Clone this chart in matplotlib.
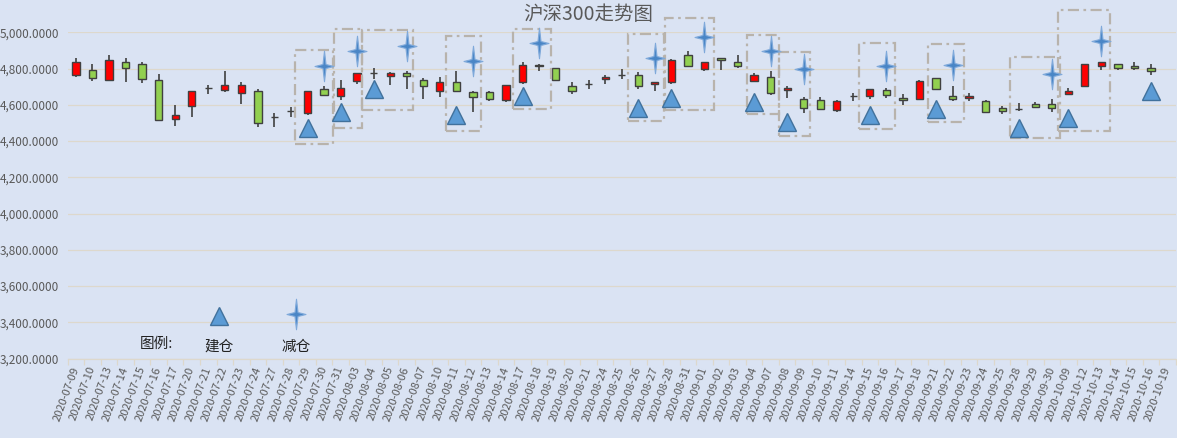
import matplotlib
matplotlib.use("Agg")
import matplotlib.pyplot as plt
from matplotlib.patches import Rectangle
from matplotlib.path import Path
from matplotlib.ticker import FuncFormatter

plt.rcParams['font.family'] = ['Noto Sans CJK SC', 'DejaVu Sans']

# ---- data ----
dates = ["2020-07-09", "2020-07-10", "2020-07-13", "2020-07-14", "2020-07-15", "2020-07-16",
         "2020-07-17", "2020-07-20", "2020-07-21", "2020-07-22", "2020-07-23", "2020-07-24",
         "2020-07-27", "2020-07-28", "2020-07-29", "2020-07-30", "2020-07-31", "2020-08-03",
         "2020-08-04", "2020-08-05", "2020-08-06", "2020-08-07", "2020-08-10", "2020-08-11",
         "2020-08-12", "2020-08-13", "2020-08-14", "2020-08-17", "2020-08-18", "2020-08-19",
         "2020-08-20", "2020-08-21", "2020-08-24", "2020-08-25", "2020-08-26", "2020-08-27",
         "2020-08-28", "2020-08-31", "2020-09-01", "2020-09-02", "2020-09-03", "2020-09-04",
         "2020-09-07", "2020-09-08", "2020-09-09", "2020-09-10", "2020-09-11", "2020-09-14",
         "2020-09-15", "2020-09-16", "2020-09-17", "2020-09-18", "2020-09-21", "2020-09-22",
         "2020-09-23", "2020-09-24", "2020-09-25", "2020-09-28", "2020-09-29", "2020-09-30",
         "2020-10-09", "2020-10-12", "2020-10-13", "2020-10-14", "2020-10-15", "2020-10-16",
         "2020-10-19"]

# 2020-10-19 has no candle
opens = [4767, 4795, 4738, 4834, 4823, 4740, 4523, 4596, 4693, 4682, 4668, 4679,
         4533, 4568, 4557, 4690, 4647, 4734, 4777, 4762, 4778, 4740, 4677, 4728,
         4669, 4669, 4625, 4727, 4821, 4806, 4706, 4717, 4745, 4767, 4764, 4716,
         4725, 4873, 4799, 4861, 4839, 4734, 4756, 4684, 4634, 4629, 4573, 4647,
         4651, 4684, 4640, 4632, 4751, 4651, 4638, 4623, 4581, 4577, 4607, 4607,
         4662, 4704, 4812, 4828, 4812, 4801]
highs = [4856, 4823, 4878, 4861, 4839, 4773, 4601, 4679, 4712, 4789, 4728, 4690,
         4557, 4588, 4679, 4706, 4740, 4775, 4804, 4782, 4788, 4751, 4754, 4789,
         4679, 4675, 4708, 4839, 4826, 4806, 4725, 4740, 4767, 4799, 4782, 4728,
         4852, 4900, 4839, 4861, 4878, 4778, 4789, 4706, 4645, 4645, 4629, 4668,
         4690, 4693, 4662, 4738, 4751, 4706, 4668, 4629, 4596, 4612, 4618, 4632,
         4695, 4823, 4839, 4828, 4834, 4823]
lows = [4754, 4732, 4738, 4728, 4723, 4514, 4485, 4535, 4662, 4671, 4605, 4477,
        4477, 4533, 4544, 4647, 4625, 4717, 4745, 4712, 4690, 4632, 4644, 4669,
        4560, 4621, 4616, 4717, 4789, 4738, 4662, 4686, 4717, 4743, 4690, 4677,
        4717, 4817, 4788, 4795, 4801, 4727, 4656, 4640, 4557, 4570, 4562, 4623,
        4631, 4640, 4601, 4627, 4690, 4621, 4621, 4562, 4549, 4568, 4583, 4562,
        4655, 4701, 4795, 4795, 4795, 4767]
closes = [4839, 4751, 4850, 4806, 4745, 4514, 4544, 4679, 4693, 4712, 4712, 4501,
          4533, 4568, 4679, 4655, 4695, 4775, 4777, 4778, 4760, 4704, 4725, 4675,
          4644, 4632, 4708, 4819, 4817, 4738, 4677, 4717, 4756, 4767, 4704, 4728,
          4845, 4817, 4839, 4845, 4817, 4767, 4668, 4695, 4584, 4577, 4623, 4647,
          4690, 4657, 4627, 4734, 4690, 4632, 4651, 4562, 4568, 4577, 4590, 4584,
          4679, 4823, 4839, 4806, 4801, 4789]

# 建仓 (triangles) and 减仓 (stars)
build_dates = ["2020-07-29", "2020-07-31", "2020-08-04", "2020-08-11", "2020-08-17",
               "2020-08-26", "2020-08-28", "2020-09-04", "2020-09-08", "2020-09-15",
               "2020-09-21", "2020-09-28", "2020-10-09", "2020-10-16"]
build_vals = [4475, 4562, 4688, 4544, 4651, 4584, 4636, 4614, 4505, 4545, 4577, 4472, 4527, 4677]
cut_dates = ["2020-07-30", "2020-08-03", "2020-08-06", "2020-08-12", "2020-08-18",
             "2020-08-27", "2020-09-01", "2020-09-07", "2020-09-09", "2020-09-16",
             "2020-09-22", "2020-09-30", "2020-10-13"]
cut_vals = [4815, 4898, 4926, 4843, 4939, 4858, 4972, 4900, 4800, 4813, 4820, 4773, 4952]

# dashed boxes around build/cut pairs (category position range, value range)
box_left = [13.24, 15.6, 17.3, 22.4, 26.4, 33.35, 35.6, 40.6, 42.5, 47.35, 51.5, 56.5, 59.4]
box_right = [15.54, 17.3, 20.36, 24.5, 28.75, 35.55, 38.6, 42.5, 44.4, 49.5, 53.7, 59.5, 62.5]
box_low = [4384, 4474, 4571, 4455, 4575, 4511, 4571, 4548, 4430, 4465, 4503, 4418, 4457]
box_high = [4902, 5017, 5013, 4980, 5017, 4989, 5077, 4985, 4890, 4939, 4934, 4865, 5123]

# ---- drawing ----
bg = "#DAE3F3"
grid_c = "#DDD8CC"
text_c = "#595959"
up_c = "#FF0000"
down_c = "#92D050"
edge_c = "#404040"

fig = plt.figure(figsize=(11.77, 4.38), dpi=100)
fig.patch.set_facecolor(bg)
ax = fig.add_axes([0.0575, 0.1815, 0.9415, 0.7445])
ax.set_facecolor(bg)

pos = {d: i for i, d in enumerate(dates)}
xs = list(range(len(opens)))

ax.vlines(xs, lows, highs, color=edge_c, lw=1.2, zorder=3)
bottoms = [min(o, c) for o, c in zip(opens, closes)]
heights = [abs(c - o) for o, c in zip(opens, closes)]
colors = [up_c if c >= o else down_c for o, c in zip(opens, closes)]
ax.bar(xs, heights, bottom=bottoms, width=0.44, color=colors, edgecolor=edge_c,
       linewidth=1.0, zorder=4)

for l, r, lo, hi in zip(box_left, box_right, box_low, box_high):
    ax.add_patch(Rectangle((l, lo), r - l, hi - lo, fill=False, ec="#B8B3AC", lw=1.6,
                           ls=(0, (5, 2, 1.2, 2)), zorder=5, clip_on=False))

star = Path([(0, 1), (0.1, 0.13), (0.62, 0), (0.1, -0.13), (0, -1), (-0.1, -0.13),
             (-0.62, 0), (-0.1, 0.13), (0, 1)],
            [Path.MOVETO] + [Path.LINETO] * 7 + [Path.CLOSEPOLY])

ax.plot([pos[d] for d in build_dates], build_vals, ls="none", marker="^", ms=13.5,
        mfc="#5B9BD5", mec="#41719C", mew=1, zorder=6, clip_on=False)
ax.plot([pos[d] for d in cut_dates], cut_vals, ls="none", marker=star, ms=22,
        mfc="#4A86C6", mec="#7FA9DA", mew=0.8, zorder=6, clip_on=False)

# legend drawn inside the plot
ax.plot([0.137], [0.13], transform=ax.transAxes, ls="none", marker="^", ms=13.5,
        mfc="#5B9BD5", mec="#41719C", mew=1, clip_on=False)
ax.plot([0.206], [0.137], transform=ax.transAxes, ls="none", marker=star, ms=22,
        mfc="#4A86C6", mec="#7FA9DA", mew=0.8, clip_on=False)
ax.text(0.08, 0.044, "图例:", transform=ax.transAxes, ha="center", va="center",
        fontsize=10.5, color="#222222")
ax.text(0.137, 0.036, "建仓", transform=ax.transAxes, ha="center", va="center",
        fontsize=10.5, color="#222222")
ax.text(0.206, 0.036, "减仓", transform=ax.transAxes, ha="center", va="center",
        fontsize=10.5, color="#222222")

ax.set_xlim(-0.5, len(dates) - 0.5)
ax.set_ylim(3200, 5000)
ax.set_yticks(range(3200, 5001, 200))
ax.yaxis.set_major_formatter(FuncFormatter(lambda v, p: "{:,.4f}".format(v)))
ax.grid(axis="y", color=grid_c, lw=0.9, zorder=0)
ax.set_axisbelow(True)

ax.set_xticks(range(len(dates)))
ax.set_xticklabels(dates, rotation=70, ha="right", va="center", rotation_mode="anchor")
ax.set_xticks([i - 0.5 for i in range(len(dates) + 1)], minor=True)
ax.tick_params(axis="x", which="major", length=0, pad=6, labelsize=8, labelcolor=text_c)
ax.tick_params(axis="x", which="minor", length=4, color=grid_c, width=0.9)
ax.tick_params(axis="y", length=0, labelsize=8.5, labelcolor=text_c, pad=6)

for s in ["top", "right", "left"]:
    ax.spines[s].set_visible(False)
ax.spines["bottom"].set_color(grid_c)
ax.spines["bottom"].set_linewidth(0.9)

fig.text(0.5, 0.966, "沪深300走势图", ha="center", va="center", fontsize=14, color=text_c)

fig.savefig("out.png", dpi=100, facecolor=bg)
